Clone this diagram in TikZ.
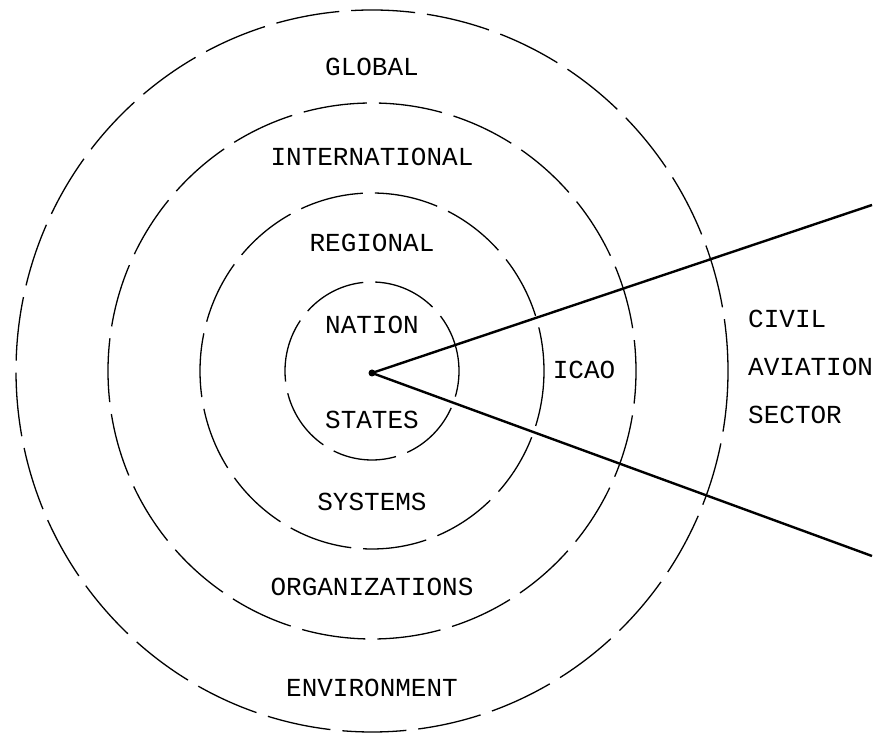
\documentclass[tikz,border=0pt]{standalone}
\usepackage{fontspec}
\setmonofont{Liberation Mono}
\usetikzlibrary{positioning}

\begin{document}
\begin{tikzpicture}[x=1pt, y=1pt,
        ring/.style={line width=1.3pt, dash pattern=on 64pt off 12pt},
        ray/.style={line width=2.4pt},
        lbl/.style={font=\ttfamily\fontsize{26}{48}\selectfont, inner sep=0pt}]
      \useasboundingbox (0,0) rectangle (876,736);
      % rings, inner to outer
      \foreach \rx/\ry/\ph in {87/89/5, 172/178/20, 264/268/33, 356/361/12}
        \draw[ring, dash phase=\ph pt] (372,365) ellipse [x radius=\rx pt, y radius=\ry pt];
      \node[circle, fill, inner sep=0pt, minimum size=7pt] (hub) at (372,363) {};
      \coordinate (up) at (872,531);
      \coordinate (dn) at (872,180);
      \draw[ray] (hub.center) -- (up);
      \draw[ray] (hub.center) -- (dn);
      % labels
      \node[lbl] (global)   at (372,669) {GLOBAL};
      \node[lbl] (intl)     at (372,579) {INTERNATIONAL};
      \node[lbl] (regional) at (372,493) {REGIONAL};
      \node[lbl] (nation)   at (372,411) {NATION};
      \node[lbl] (states)   at (372,316) {STATES};
      \node[lbl] (systems)  at (372,234) {SYSTEMS};
      \node[lbl] (orgs)     at (372,149) {ORGANIZATIONS};
      \node[lbl] (env)      at (372,48)  {ENVIRONMENT};
      \node[lbl] (icao)     at (584,366) {ICAO};
      \node[lbl, align=left, anchor=west] (sector) at (748,369) {CIVIL\\AVIATION\\SECTOR};
    \end{tikzpicture}
\end{document}
